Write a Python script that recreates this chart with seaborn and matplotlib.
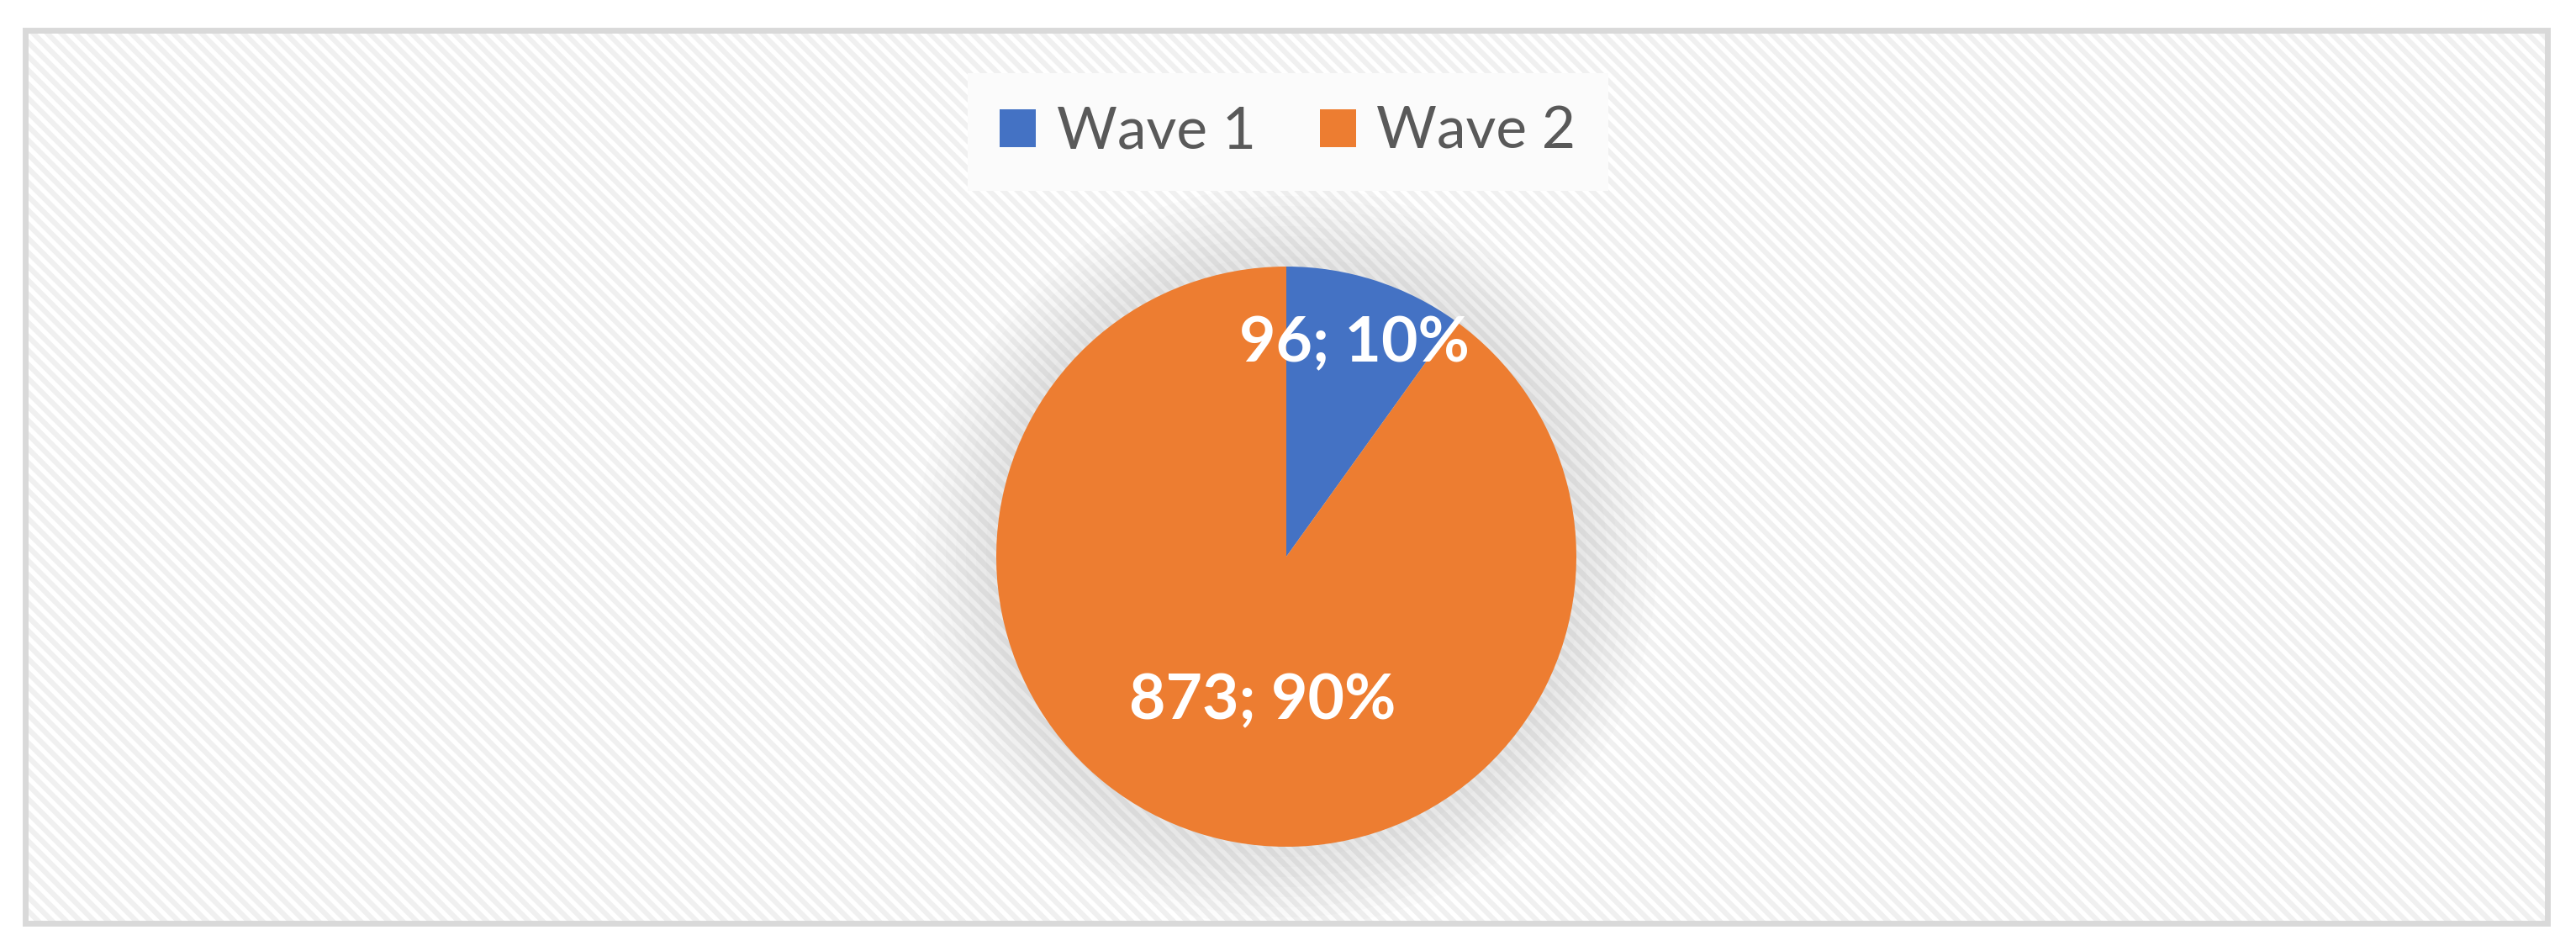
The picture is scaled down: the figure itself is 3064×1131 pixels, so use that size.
import numpy as np
import matplotlib
matplotlib.use("Agg")
import matplotlib.pyplot as plt
import matplotlib.patches as mpatches
import seaborn as sns

sns.set_style("white")
plt.rcParams['font.family'] = ['Lato', 'DejaVu Sans']
plt.rcParams['hatch.linewidth'] = 4.5

# data
waves = ["Wave 1", "Wave 2"]
counts = [96, 873]
wave_colors = ["#4472C4", "#ED7D31"]

W, H = 3064, 1131
fig = plt.figure(figsize=(W / 100, H / 100), dpi=100)
fig.patch.set_facecolor("white")
ax = fig.add_axes([0, 0, 1, 1])

# chart area: striped fill + grey border
area = mpatches.Rectangle((30, H - 1098), 3000, 1063, facecolor="white",
                          edgecolor="#F0F0F0", hatch="\\\\", lw=0, zorder=0)
ax.add_patch(area)
ax.add_patch(mpatches.Rectangle((29.5, H - 1097.5), 3000, 1062, fill=False,
                                edgecolor="#D9D9D9", lw=5, zorder=5))

cx, cy, r = 1530, H - 662, 345

# soft shadow behind the pie
for k in range(1, 9):
    c = mpatches.Circle((cx, cy), r + 12 * k, color="#a0a0a0",
                        alpha=0.03, lw=0, zorder=1)
    ax.add_patch(c)
    c.set_clip_path(area)

total = sum(counts)
wedges, texts, autotexts = ax.pie(
    counts, colors=wave_colors, startangle=90, counterclock=False,
    center=(cx, cy), radius=r, frame=True,
    autopct=lambda p: f"{round(p * total / 100):.0f}; {p:.0f}%",
    pctdistance=0.77,
    wedgeprops=dict(linewidth=0, zorder=2),
    textprops=dict(color="white", fontsize=54, fontweight="bold", zorder=3))

# the big slice label sits closer to the centre
x, y = autotexts[1].get_position()
autotexts[1].set_position((cx + (x - cx) * 0.35, cy + (y - cy) * 0.68))

ax.set_xlim(0, W)
ax.set_ylim(0, H)
ax.set_aspect("equal")
ax.axis("off")

leg = ax.legend(wedges, waves, loc="center", ncol=2,
                bbox_to_anchor=(1532 / W, (H - 157) / H),
                fontsize=50, labelcolor="#595959", frameon=True,
                facecolor="#FBFBFB", edgecolor="none", framealpha=1,
                fancybox=False, handlelength=0.62, handleheight=0.62,
                handletextpad=0.35, columnspacing=1.1, borderpad=0.55)
leg.set_zorder(4)

fig.savefig("out.png", dpi=100, facecolor="white")
